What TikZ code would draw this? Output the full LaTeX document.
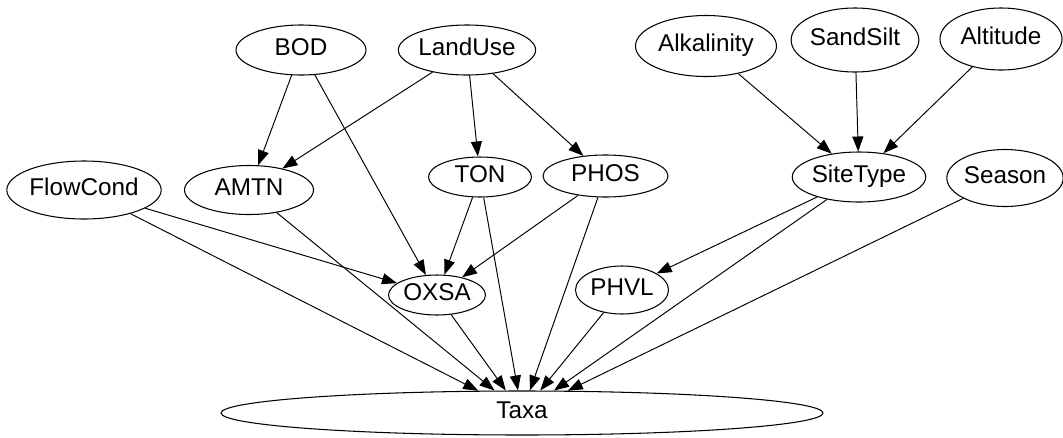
\documentclass[tikz,border=0pt]{standalone}
\usepackage{fontspec}
\setmainfont{Liberation Sans}
\usetikzlibrary{arrows.meta,shapes.geometric}

\begin{document}
\begin{tikzpicture}[
  var/.style={draw, ellipse, line width=0.6pt, inner sep=0pt,
    font=\fontsize{13.8}{16}\selectfont, text height=1.6ex, text depth=0.4ex},
  link/.style={-{Triangle[length=0.3cm,width=0.22cm]}, line width=0.55pt}]
  \useasboundingbox (0,0) rectangle (21.26,-8.74);
  \node[var, minimum width=2.60cm, minimum height=1.00cm] (bod) at (6.02,-1.00) {BOD};
  \node[var, minimum width=2.74cm, minimum height=1.00cm] (landuse) at (9.34,-1.00) {LandUse};
  \node[var, minimum width=2.82cm, minimum height=1.22cm] (alkalinity) at (14.12,-0.92) {Alkalinity};
  \node[var, minimum width=2.48cm, minimum height=1.28cm] (sandsilt) at (17.10,-0.80) {SandSilt};
  \node[var, minimum width=2.44cm, minimum height=1.24cm] (altitude) at (20.02,-0.78) {Altitude};
  \node[var, minimum width=2.90cm, minimum height=1.16cm] (flowcond) at (1.68,-3.80) {FlowCond};
  \node[var, minimum width=2.58cm, minimum height=0.98cm] (amtn) at (4.98,-3.80) {AMTN};
  \node[var, minimum width=2.06cm, minimum height=0.80cm] (ton) at (9.60,-3.54) {TON};
  \node[var, minimum width=2.50cm, minimum height=0.84cm] (phos) at (12.11,-3.52) {PHOS};
  \node[var, minimum width=2.64cm, minimum height=1.00cm] (sitetype) at (17.18,-3.54) {SiteType};
  \node[var, minimum width=2.32cm, minimum height=1.14cm] (season) at (20.10,-3.56) {Season};
  \node[var, minimum width=1.94cm, minimum height=0.80cm] (oxsa) at (8.74,-5.90) {OXSA};
  \node[var, minimum width=1.86cm, minimum height=0.96cm] (phvl) at (12.44,-5.80) {PHVL};
  \node[var, minimum width=12.04cm, minimum height=0.88cm] (taxa) at (10.44,-8.26) {Taxa};
  \draw[link] (bod) -- (amtn);
  \draw[link] (bod) -- (oxsa);
  \draw[link] (landuse) -- (amtn);
  \draw[link] (landuse) -- (ton);
  \draw[link] (landuse) -- (phos);
  \draw[link] (alkalinity) -- (sitetype);
  \draw[link] (sandsilt) -- (sitetype);
  \draw[link] (altitude) -- (sitetype);
  \draw[link] (flowcond) -- (oxsa);
  \draw[link] (ton) -- (oxsa);
  \draw[link] (phos) -- (oxsa);
  \draw[link] (sitetype) -- (phvl);
  \draw[link] (flowcond) -- (taxa);
  \draw[link] (amtn) -- (taxa);
  \draw[link] (oxsa) -- (taxa);
  \draw[link] (ton) -- (taxa);
  \draw[link] (phos) -- (taxa);
  \draw[link] (phvl) -- (taxa);
  \draw[link] (sitetype) -- (taxa);
  \draw[link] (season) -- (taxa);
\end{tikzpicture}
\end{document}
